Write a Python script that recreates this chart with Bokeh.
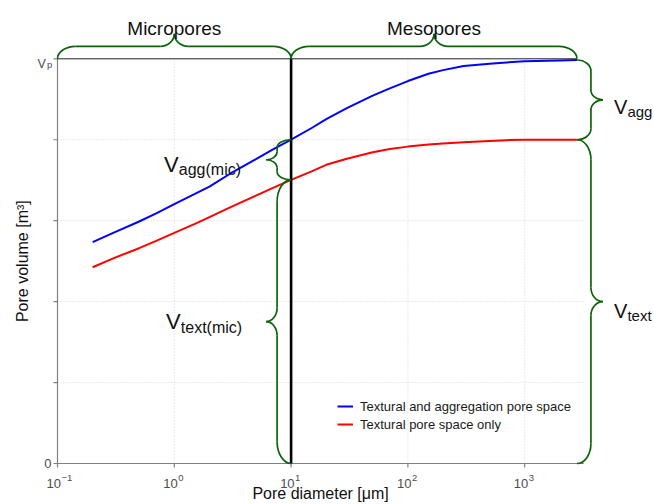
import numpy as np
from bokeh.plotting import figure
from bokeh.models import Range1d, Legend, LegendItem
from bokeh.core.properties import value
from bokeh.embed import file_html
from bokeh.resources import INLINE

# ---- data ------------------------------------------------------------------
# pore diameter [µm]
diameter = [0.2, 0.3, 0.5, 0.7, 1, 1.5, 2, 3, 5, 7, 10, 15, 20, 30, 50, 70, 100,
            150, 200, 300, 500, 700, 1000, 2000, 2800]
# cumulative pore volume, as a fraction of the total pore volume Vp
vol_total = [0.547, 0.570, 0.598, 0.618, 0.641, 0.666, 0.684, 0.716, 0.752, 0.776,
             0.800, 0.829, 0.851, 0.878, 0.909, 0.927, 0.945, 0.963, 0.972, 0.982,
             0.988, 0.991, 0.994, 0.996, 0.997]
vol_textural = [0.485, 0.507, 0.532, 0.550, 0.570, 0.592, 0.609, 0.633, 0.662, 0.681,
                0.701, 0.722, 0.738, 0.753, 0.769, 0.777, 0.783, 0.788, 0.791, 0.794,
                0.797, 0.799, 0.800, 0.800, 0.800]
series_names = ["Textural and aggregation pore space", "Textural pore space only"]
series_colors = ["#0000ff", "#ff0000"]

x_ticks = [0.1, 1, 10, 100, 1000]
x_tick_base = "10"
x_tick_exponents = ["\u22121", "0", "1", "2", "3"]
y_ticks = [0, 0.2, 0.4, 0.6, 0.8, 1]
micro_limit = 10          # boundary between micropores and mesopores [µm]
region_names = ["Micropores", "Mesopores"]
x_title = "Pore diameter [μm]"
y_title = "Pore volume [m³]"

# ---- layout (the frame fills the canvas; axes are drawn by hand) -----------
W, H = 654, 504
X0_PX, Y0_PX = 57, 463    # canvas position of (0.1, 0)
PX_DEC = 116.8            # pixels per decade of diameter
PX_VP = 404.7             # pixels per unit of Vp
X_LO = 0.1
AXIS_X_END = 3200

x_start = 10 ** (np.log10(X_LO) - X0_PX / PX_DEC)
x_end = 10 ** (np.log10(X_LO) + (W - X0_PX) / PX_DEC)
y_start = -(H - Y0_PX) / PX_VP
y_end = Y0_PX / PX_VP

FONT = value("Liberation Sans")
GREEN = "#0b640b"
INK = "#111111"
GREY_TXT = "#4d4d4d"
GREY_AX = "#808080"
GRID = "#d4d4d4"

p = figure(width=W, height=H, x_axis_type="log",
           x_range=Range1d(x_start, x_end), y_range=Range1d(y_start, y_end),
           x_axis_location=None, y_axis_location=None,
           output_backend="svg", toolbar_location=None,
           min_border=0, outline_line_color=None, background_fill_color="white")
p.grid.visible = False


def dx(px, x=X_LO):
    """x value lying px pixels right of x."""
    return 10 ** (np.log10(x) + px / PX_DEC)


# dotted grid, limited to the plotted domain
p.segment(x0=[X_LO] * 4, y0=y_ticks[1:-1], x1=[AXIS_X_END] * 4, y1=y_ticks[1:-1],
          line_color=GRID, line_dash="1 2", line_width=1)
p.segment(x0=x_ticks[1:], y0=[0] * 4, x1=x_ticks[1:], y1=[1] * 4,
          line_color=GRID, line_dash="1 2", line_width=1)

# axes
p.segment(x0=[X_LO, X_LO], y0=[0, 0], x1=[AXIS_X_END, X_LO], y1=[0, 1],
          line_color=GREY_AX, line_width=1.2)
p.segment(x0=x_ticks, y0=[0] * 5, x1=x_ticks, y1=[-4 / PX_VP] * 5,
          line_color=GREY_AX, line_width=1.2)
p.segment(x0=[X_LO] * 6, y0=y_ticks, x1=[dx(-4)] * 6, y1=y_ticks,
          line_color=GREY_AX, line_width=1.2)

# x tick labels: base with raised exponent
p.text(x=x_ticks, y=[0] * 5, text=[x_tick_base] * 5, text_font=FONT, text_font_size="13px",
       text_color=GREY_TXT, text_align="right", text_baseline="alphabetic",
       x_offset=3.5, y_offset=20)
p.text(x=x_ticks, y=[0] * 5, text=x_tick_exponents, text_font=FONT, text_font_size="9.5px",
       text_color=GREY_TXT, text_align="left", text_baseline="alphabetic",
       x_offset=4, y_offset=14)
# y tick labels: 0 and Vp
p.text(x=[X_LO], y=[0], text=["0"], text_font=FONT, text_font_size="13px",
       text_color=GREY_TXT, text_align="right", text_baseline="middle", x_offset=-6)
p.text(x=[X_LO], y=[1], text=["V"], text_font=FONT, text_font_size="12.5px",
       text_color=GREY_TXT, text_align="left", text_baseline="alphabetic",
       x_offset=-20, y_offset=5)
p.text(x=[X_LO], y=[1], text=["p"], text_font=FONT, text_font_size="9.5px",
       text_color=GREY_TXT, text_align="left", text_baseline="alphabetic",
       x_offset=-10.5, y_offset=5.5)

# axis titles, centred on the axis lines
p.text(x=[np.sqrt(X_LO * AXIS_X_END)], y=[0], text=[x_title], text_font=FONT,
       text_font_size="16px", text_color=INK, text_align="center", text_baseline="middle",
       y_offset=30)
p.text(x=[X_LO], y=[0.5], text=[y_title], text_font=FONT, angle=np.pi / 2,
       text_font_size="16px", text_color=INK, text_align="center", text_baseline="middle",
       x_offset=-35)

# total pore volume level
p.segment(x0=[X_LO], y0=[1], x1=[diameter[-1]], y1=[1], line_color="#222222", line_width=1)

r_tot = p.line(diameter, vol_total, line_color=series_colors[0], line_width=2)
r_tex = p.line(diameter, vol_textural, line_color=series_colors[1], line_width=2)

# micro / meso boundary
p.segment(x0=[micro_limit], y0=[0], x1=[micro_limit], y1=[1], line_color="black", line_width=2.6)

# ---- curly braces ------------------------------------------------------------
K = 0.5523


def brace(a, b, h1, h2, l1, l2):
    """Brace from a to b (pixels along its axis); body at h1, tip at h2 (pixels across)."""
    m = (a + b) / 2
    s = 1 if b > a else -1
    segs = []
    for end, d in ((a, s), (b, -s)):
        u0, u1 = end + d * l1, m - d * l2
        segs.append(((end, 0), (end, K * h1), (end + d * l1 * (1 - K), h1), (u0, h1)))
        segs.append(((u0, h1), (u0 + (u1 - u0) / 3, h1), (u0 + 2 * (u1 - u0) / 3, h1), (u1, h1)))
        segs.append(((u1, h1), (u1 + d * K * l2, h1), (m, h2 - K * (h2 - h1)), (m, h2)))
    return segs


bz = {k: [] for k in ("x0", "y0", "x1", "y1", "cx0", "cy0", "cx1", "cy1")}


def add_brace(segs, to_data):
    for p0, c0, c1, p1 in segs:
        for key, pt in (("x0", p0), ("x1", p1), ("cx0", c0), ("cx1", c1)):
            x, y = to_data(*pt)
            bz[key].append(x)
            bz[key.replace("x", "y")].append(y)


def top_map(base_y):
    return lambda u, v: (10 ** (u / PX_DEC), base_y + v / PX_VP)


def side_map(x_edge, direction):
    return lambda u, v: (dx(direction * v, x_edge), u / PX_VP)


L = lambda x: np.log10(x) * PX_DEC
v_mic_tot = vol_total[diameter.index(micro_limit)]
v_mic_tex = vol_textural[diameter.index(micro_limit)]

# pore classes above the plot
spans_x = [(X_LO, micro_limit), (micro_limit, diameter[-1])]
for a, b in spans_x:
    add_brace(brace(L(a), L(b), 12.5, 25, 18, 14), top_map(1.0))
# aggregation / textural volume on the right
add_brace(brace(vol_textural[-1] * PX_VP, vol_total[-1] * PX_VP, 14, 26, 11, 10),
          side_map(diameter[-1], 1))
add_brace(brace(0, vol_textural[-1] * PX_VP, 14, 26, 20, 14), side_map(diameter[-1], 1))
# same split within the micropores, at the boundary
add_brace(brace(v_mic_tex * PX_VP, v_mic_tot * PX_VP, 14, 25, 8, 8), side_map(micro_limit, -1))
add_brace(brace(0, v_mic_tex * PX_VP, 14, 25, 22, 14), side_map(micro_limit, -1))

p.bezier(line_color=GREEN, line_width=1.7, **bz)

# ---- brace labels --------------------------------------------------------------
top_x = [10 ** ((np.log10(a) + np.log10(b)) / 2) for a, b in spans_x]
p.text(x=top_x, y=[1, 1], text=region_names, text_font=FONT,
       text_font_size="19px", text_color=INK, text_align="center",
       text_baseline="alphabetic", y_offset=-30)

x_right = dx(26, diameter[-1])
x_left = dx(-25, micro_limit)
vol_labels = [
    # x, y, main, subscript, sizes, dx main, dy main, dx sub, dy sub
    (x_right, (vol_textural[-1] + vol_total[-1]) / 2, "V", "agg", 20, 15, 11, 7.5, 24.5, 12),
    (x_right, vol_textural[-1] / 2, "V", "text", 20, 15, 11, 9, 24.5, 13.5),
    (x_left, (v_mic_tex + v_mic_tot) / 2, "V", "agg(mic)", 22, 16, -102, 5, -87.3, 10),
    (x_left, v_mic_tex / 2, "V", "text(mic)", 22, 16, -100, 0, -85.3, 5.5),
]
for x, y, main, sub, fm, fs, dxm, dym, dxs, dys in vol_labels:
    p.text(x=[x], y=[y], text=[main], text_font=FONT, text_font_size=f"{fm}px",
           text_color=INK, text_align="left", text_baseline="alphabetic",
           x_offset=dxm, y_offset=dym)
    p.text(x=[x], y=[y], text=[sub], text_font=FONT, text_font_size=f"{fs}px",
           text_color=INK, text_align="left", text_baseline="alphabetic",
           x_offset=dxs, y_offset=dys)

legend = Legend(items=[LegendItem(label=series_names[0], renderers=[r_tot]),
                       LegendItem(label=series_names[1], renderers=[r_tex])],
                location=(337, H - 433), padding=0, margin=0, spacing=0,
                glyph_width=16, glyph_height=18, label_height=18, label_standoff=7,
                label_text_font="Liberation Sans", label_text_font_size="13px",
                label_text_color="#1a1a1a", border_line_color=None,
                background_fill_alpha=0)
p.add_layout(legend)

open("out.html", "w").write(file_html(p, INLINE))
